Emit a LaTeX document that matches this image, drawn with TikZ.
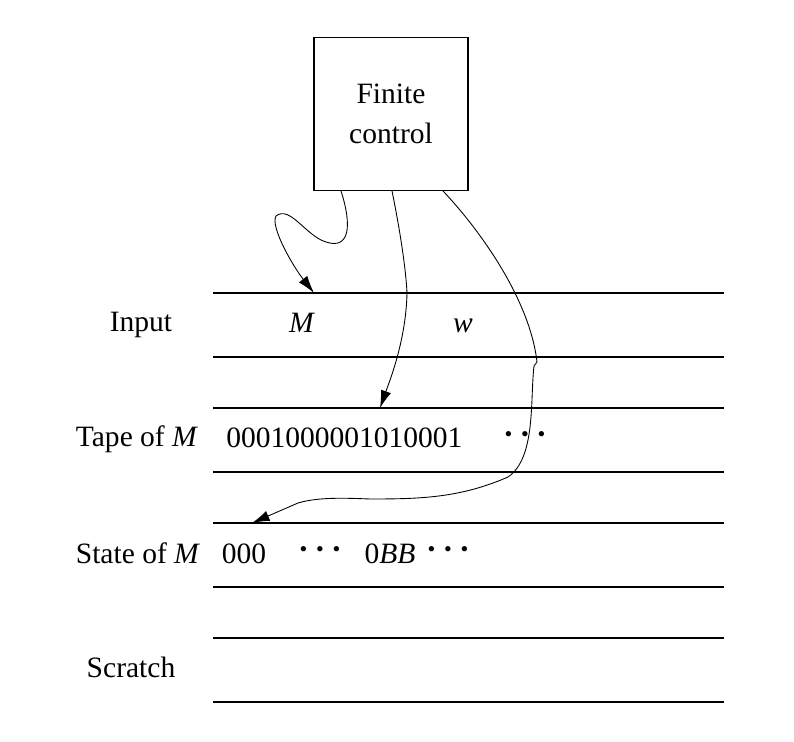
\documentclass[tikz,border=0pt]{standalone}
\usepackage{fontspec}
\setmainfont{Liberation Serif}
\usepackage{tikz}
\usetikzlibrary{positioning,calc}
\usetikzlibrary{arrows.meta}
\tikzset{>={Latex[length=10pt,width=6pt]}}
\tikzset{
  tapeline/.style={line width=0.6pt},
  lbl/.style={font=\fontsize{16.8}{22.7}\selectfont, inner sep=0pt},
  cell/.style={font=\fontsize{16.8}{22.7}\selectfont, inner sep=0pt, anchor=base},
  head/.style={->, line width=0.5pt},
}
\newcommand{\rowdot}{\raisebox{0.22em}{\scalebox{0.75}{\textbullet}}}
\newcommand{\rowdots}{\rowdot\hspace{0.3em}\rowdot\hspace{0.3em}\rowdot}

\begin{document}
\begin{tikzpicture}[x=0.02cm,y=-0.02cm]
				\useasboundingbox (0,0) rectangle (794,742);
				
				% finite control
				\node[draw, line width=0.6pt, minimum width=3.08cm, minimum height=3.06cm, align=center, lbl] (fc) at (391,114) {Finite\\control};
				
				% the four tapes, two lines each
				\foreach \y in {293,357,408,472,523,587,638,702}
					\draw[tapeline] (213,\y) -- (724,\y);
				
				\node[lbl] (input) at (141,325) {Input};
				\node[lbl] (tape) at (137,439) {Tape of \textit{M}};
				\node[lbl] (state) at (138,553) {State of \textit{M}};
				\node[lbl] (scratch) at (131,667) {Scratch};
				
				\node[cell] (inM) at (302,333) {\textit{M}};
				\node[cell] (inw) at (463,333) {\textit{w}};
				\node[cell, anchor=base west] (code) at (226,448) {0001000001010001};
				\node[cell] (codedots) at (525,448) {\rowdots};
				\node[cell] (st0) at (244,563) {000};
				\node[cell] (stdots) at (320,563) {\rowdots};
				\node[cell] (stBB) at (390,563) {0\textit{BB}};
				\node[cell] (stdots2) at (448,563) {\rowdots};
				
				% heads
				\coordinate (hinput) at (314,293);
				\coordinate (htape) at (380,408);
				\coordinate (hstate) at (252,523);
				
				\draw[head] (341,191) .. controls (352,225) and (350,250) .. (326,242)
				.. controls (306,236) and (290,205) .. (276,216)
				.. controls (270,226) and (292,265) .. (hinput);
				\draw[head] (392,191) .. controls (400,230) and (406,270) .. (407,293)
				.. controls (406,340) and (390,380) .. (htape);
				\draw[head] (443,191) .. controls (480,230) and (530,300) .. (537,362)
				-- (534,366) .. controls (530,400) and (536,458) .. (508,477)
				.. controls (460,498) and (420,499) .. (370,499)
				.. controls (345,498) and (318,497) .. (298,503)
				-- (hstate);
			\end{tikzpicture}
\end{document}
